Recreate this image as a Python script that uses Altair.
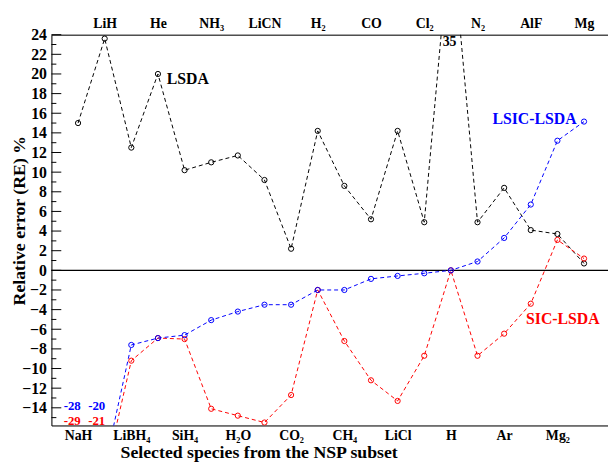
import altair as alt
import pandas as pd

species = ["NaH", "LiH", "LiBH₄", "He", "SiH₄", "NH₃", "H₂O", "LiCN", "CO₂", "H₂",
           "CH₄", "CO", "LiCl", "Cl₂", "H", "N₂", "Ar", "AlF", "Mg₂", "Mg"]
lsda = [15.0, 23.6, 12.5, 20.0, 10.2, 11.0, 11.7, 9.2, 2.2, 14.2,
        8.6, 5.2, 14.2, 4.9, 35.0, 4.9, 8.4, 4.1, 3.7, 0.7]
sic_lsda = [-29, -21, -9.2, -6.9, -7.0, -14.1, -14.8, -15.5, -12.7, -2.0,
            -7.2, -11.2, -13.3, -8.7, 0.0, -8.7, -6.45, -3.4, 3.1, 1.2]
lsic_lsda = [-28, -20, -7.6, -6.9, -6.6, -5.07, -4.2, -3.5, -3.5, -2.0,
             -2.0, -0.87, -0.57, -0.3, 0.0, 0.9, 3.3, 6.7, 13.2, 15.15]

major_ticks = list(range(-14, 25, 2))
minor_ticks = list(range(-15, 24, 2))

FONT = "Liberation Serif"
X_DOMAIN = [0, 20.9]
Y_DOMAIN = [-15.8, 24]

idx = list(range(1, len(species) + 1))
df = pd.DataFrame({"idx": idx, "species": species, "LSDA": lsda,
                   "SIC-LSDA": sic_lsda, "LSIC-LSDA": lsic_lsda})

names_js = "[''," + ",".join("'" + s + "'" for s in species) + "]"
bottom_vals = idx[0::2]
top_vals = idx[1::2]

x_bottom = alt.X("idx:Q", scale=alt.Scale(domain=X_DOMAIN, nice=False, zero=False),
                 axis=alt.Axis(values=bottom_vals, labelExpr=names_js + "[datum.value]",
                               ticks=False, tickSize=0, grid=False, domainColor="black",
                               labelFont=FONT, labelFontWeight="bold", labelFontSize=14,
                               labelColor="black", labelPadding=3,
                               title="Selected species from the NSP subset",
                               titleFont=FONT, titleFontSize=18, titleFontWeight="bold",
                               titleColor="black", titleX=210, titleY=32,
                               titleBaseline="alphabetic"))
x_top = alt.X("idx:Q", scale=alt.Scale(domain=X_DOMAIN, nice=False, zero=False),
              axis=alt.Axis(orient="top", values=top_vals, labelExpr=names_js + "[datum.value]",
                            ticks=False, tickSize=0, grid=False, domainColor="black",
                            labelFont=FONT, labelFontWeight="bold", labelFontSize=14,
                            labelColor="black", labelPadding=4, title=None))
y_axis = alt.Axis(values=major_ticks, ticks=False, tickSize=0, grid=False,
                  domainColor="black", labelFont=FONT, labelFontWeight="bold",
                  labelFontSize=16, labelColor="black", labelPadding=5,
                  title="Relative error (RE)  %", titleFont=FONT,
                  titleFontSize=18, titleFontWeight="bold", titleColor="black",
                  titleAngle=270, titleX=-27, titleY=188, titleAlign="center",
                  titleBaseline="alphabetic")
y_enc = alt.Y("val:Q", scale=alt.Scale(domain=Y_DOMAIN, nice=False, zero=False), axis=y_axis)

long = df.melt(id_vars=["idx"], value_vars=["LSDA", "SIC-LSDA", "LSIC-LSDA"],
               var_name="series", value_name="val")

colors = {"LSDA": "black", "SIC-LSDA": "#ff0000", "LSIC-LSDA": "#0000ff"}
layers = []
for s in ["LSDA", "SIC-LSDA", "LSIC-LSDA"]:
    d = long[long.series == s]
    base = alt.Chart(d)
    layers.append(base.mark_line(color=colors[s], strokeDash=[4, 3], strokeWidth=1, clip=True)
                  .encode(x=x_bottom, y=y_enc))
    layers.append(base.mark_point(color=colors[s], size=28, strokeWidth=1, filled=False,
                                  opacity=1, clip=True)
                  .encode(x=x_bottom, y=y_enc))

zero = alt.Chart(pd.DataFrame({"val": [0]})).mark_rule(color="black", strokeWidth=1.2).encode(y=y_enc)
tick_major = alt.Chart(pd.DataFrame({"val": major_ticks})).mark_rule(color="black", strokeWidth=1).encode(
    y=y_enc, x=alt.value(0), x2=alt.value(10))
tick_minor = alt.Chart(pd.DataFrame({"val": minor_ticks})).mark_rule(color="black", strokeWidth=1).encode(
    y=y_enc, x=alt.value(0), x2=alt.value(5))

ann = pd.DataFrame({
    "idx": [4.33, 16.56, 17.82, 14.95, 0.78, 1.7, 0.78, 1.7],
    "val": [19.5, 15.36, -4.92, 23.27, -13.8, -13.8, -15.3, -15.3],
    "text": ["LSDA", "LSIC-LSDA", "SIC-LSDA", "35", "-28", "-20", "-29", "-21"],
    "color": ["black", "#0000ff", "#ff0000", "black", "#0000ff", "#0000ff", "#ff0000", "#ff0000"],
    "size": [16, 16, 16, 14, 13, 13, 13, 13],
    "align": ["left", "left", "left", "center", "center", "center", "center", "center"],
})
texts = []
for _, r in ann.iterrows():
    texts.append(alt.Chart(pd.DataFrame([r])).mark_text(
        font=FONT, fontWeight="bold", fontSize=int(r["size"]), color=r["color"],
        align=r["align"], baseline="middle").encode(x=x_bottom, y=y_enc, text="text:N"))

bottom_group = alt.layer(zero, tick_major, tick_minor, *layers, *texts)
top_group = alt.Chart(long).mark_point(opacity=0).encode(x=x_top, y=y_enc)

chart = alt.layer(bottom_group, top_group).resolve_scale(x="independent").properties(
    width=564, height=396,
    autosize=alt.AutoSizeParams(type="none"),
    padding={"left": 44, "top": 24, "right": 0, "bottom": 36},
).configure_view(stroke=None).configure(background="white")

chart.save("out.html", embed_options={"renderer": "svg", "actions": False})
